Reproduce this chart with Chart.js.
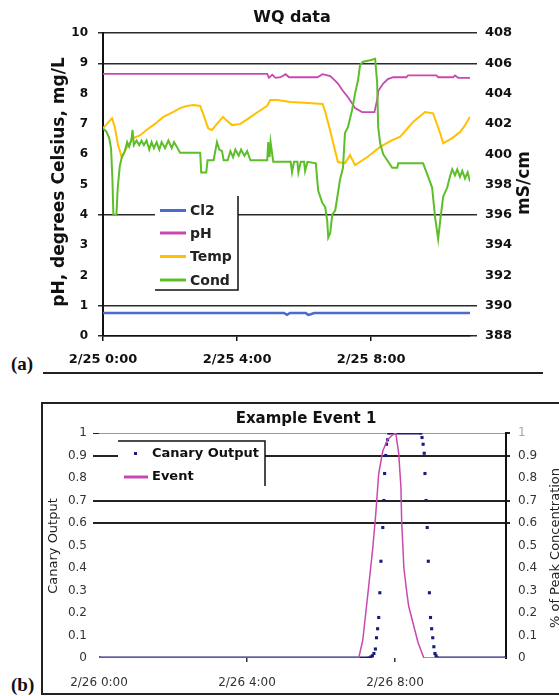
<!DOCTYPE html>
<html>
<head>
<meta charset="utf-8">
<script src="https://cdn.jsdelivr.net/npm/chart.js@4.4.1/dist/chart.umd.min.js"></script>
<style>
  body{margin:0;background:#fff;width:559px;height:696px;position:relative;overflow:hidden}
  canvas{position:absolute;left:0}
  #grafA{top:0}
  #grafB{top:376px}
  .letra{position:absolute;left:11px;font-family:"Liberation Serif",serif;font-weight:bold;font-size:19px;color:#111;line-height:20px}
  #linhaA{position:absolute;left:43px;top:372px;width:500px;height:2px;background:#222}
  #caixaB{position:absolute;left:41px;top:402px;width:540px;height:289px;border:2px solid #222}
</style>
</head>
<body>
<div id="linhaA"></div>
<div id="caixaB"></div>
<span class="letra" style="top:354px">(a)</span>
<span class="letra" style="top:675px">(b)</span>
<canvas id="grafA" width="559" height="376"></canvas>
<canvas id="grafB" width="559" height="320"></canvas>
<script>
// grafico (a) - WQ data, horas desde 2/25 0:00
var horasCl2 = [0, 5.40, 5.49, 5.58, 6.05, 6.12, 6.20, 6.30, 10.95]
var valCl2 = [0.76, 0.76, 0.70, 0.76, 0.76, 0.70, 0.72, 0.76, 0.76]

var horasPh = [0, 4.90, 4.95, 5.05, 5.15, 5.30, 5.45, 5.55, 6.40, 6.55, 6.78, 6.90, 7.01, 7.15, 7.31, 7.45,
  7.52, 7.73, 8.10, 8.18, 8.22, 8.36, 8.50, 8.66, 9.05, 9.10, 9.95, 10.00, 10.45, 10.50, 10.60, 10.95]
var valPh = [8.65, 8.65, 8.52, 8.62, 8.52, 8.54, 8.64, 8.54, 8.54, 8.64, 8.58, 8.45, 8.33, 8.10, 7.88, 7.65,
  7.52, 7.39, 7.39, 7.80, 8.10, 8.33, 8.48, 8.54, 8.54, 8.60, 8.60, 8.54, 8.54, 8.60, 8.52, 8.52]

var horasTemp = [0, 0.12, 0.27, 0.35, 0.45, 0.56, 0.70, 0.90, 1.10, 1.30, 1.55, 1.80, 2.10, 2.30, 2.50, 2.70,
  2.90, 3.00, 3.14, 3.25, 3.40, 3.58, 3.70, 3.85, 4.10, 4.30, 4.48, 4.70, 4.90, 4.99, 5.20, 5.60, 6.00, 6.55,
  6.63, 6.75, 6.87, 7.01, 7.22, 7.37, 7.52, 7.88, 8.27, 8.60, 8.87, 9.25, 9.61, 9.85, 10.06, 10.15, 10.42,
  10.66, 10.80, 10.95]
var valTemp = [6.86, 7.00, 7.19, 6.90, 6.30, 5.90, 6.20, 6.53, 6.62, 6.80, 7.00, 7.23, 7.40, 7.52, 7.59, 7.62,
  7.59, 7.30, 6.85, 6.80, 7.00, 7.23, 7.10, 6.96, 7.00, 7.15, 7.29, 7.45, 7.60, 7.79, 7.79, 7.72, 7.70, 7.66,
  7.40, 6.90, 6.36, 5.74, 5.70, 5.97, 5.64, 5.90, 6.24, 6.45, 6.58, 7.06, 7.39, 7.35, 6.69, 6.36, 6.53,
  6.74, 6.95, 7.24]

var horasCond = [0, 0.10, 0.18, 0.24, 0.28, 0.31, 0.40, 0.44, 0.50, 0.56,
  0.65, 0.72, 0.78, 0.85, 0.88, 0.92, 1.00, 1.08, 1.15, 1.22,
  1.30, 1.38, 1.45, 1.52, 1.60, 1.68, 1.75, 1.85, 1.95, 2.05,
  2.12, 2.20, 2.30, 2.90, 2.93, 3.08, 3.12, 3.30, 3.40, 3.47,
  3.55, 3.60, 3.72, 3.80, 3.88, 3.95, 4.05, 4.12, 4.22, 4.30,
  4.40, 4.90, 4.93, 4.97, 5.00, 5.08, 5.60, 5.64, 5.70, 5.80,
  5.83, 5.90, 6.00, 6.03, 6.10, 6.35, 6.42, 6.54, 6.63, 6.69,
  6.72, 6.78, 6.84, 6.93, 7.07, 7.16, 7.22, 7.31, 7.43, 7.52,
  7.61, 7.67, 7.76, 7.97, 8.12, 8.18, 8.21, 8.27, 8.36, 8.48,
  8.63, 8.78, 8.81, 9.55, 9.67, 9.82, 9.91, 10.00, 10.06, 10.15,
  10.27, 10.36, 10.42, 10.50, 10.57, 10.65, 10.72, 10.80, 10.88, 10.95]
var valCond = [401.7, 401.5, 401.1, 400.4, 398.4, 396.0, 396.0, 397.8, 399.2, 399.8,
  400.2, 400.8, 400.5, 401.0, 401.6, 400.6, 400.9, 400.6, 400.9, 400.6,
  400.9, 400.3, 400.8, 400.4, 400.8, 400.3, 400.8, 400.4, 400.9, 400.4,
  400.8, 400.5, 400.1, 400.1, 398.8, 398.8, 399.6, 399.6, 400.8, 400.3,
  400.2, 399.6, 399.6, 400.2, 399.8, 400.3, 399.9, 400.3, 399.9, 400.2,
  399.6, 399.6, 400.8, 399.8, 400.8, 399.5, 399.5, 398.8, 399.5, 399.5,
  398.8, 399.5, 399.5, 398.9, 399.5, 399.4, 397.6, 396.8, 396.5, 395.6,
  394.5, 394.8, 396.0, 396.3, 398.3, 399.1, 401.4, 401.8, 402.9, 404.0,
  404.9, 405.9, 406.1, 406.2, 406.3, 404.7, 401.8, 400.7, 400.0, 399.6,
  399.1, 399.1, 399.4, 399.4, 398.7, 397.8, 395.8, 394.4, 395.6, 397.2,
  397.8, 398.6, 399.0, 398.6, 399.0, 398.5, 398.9, 398.4, 398.8, 398.2]

var ticksHorasA = [0, 4, 8]
var gradeEsqA = [10, 9, 4, 1, 0]
var gradeDirA = [408, 406, 396, 390, 388]

// grafico (b) - Example Event 1, horas desde 2/26 0:00
var horasCanary = [0, 7.30, 7.35, 7.39, 7.43, 7.47, 7.50, 7.53, 7.56, 7.59,
  7.62, 7.67, 7.70, 7.72, 7.75, 7.77, 7.80, 7.83, 8.70, 8.73,
  8.76, 8.79, 8.81, 8.84, 8.87, 8.90, 8.93, 8.96, 8.99, 9.02,
  9.05, 9.08, 9.11, 9.14, 11]
var valCanary = [0, 0, 0.005, 0.01, 0.02, 0.04, 0.09, 0.13, 0.18, 0.29,
  0.43, 0.58, 0.70, 0.82, 0.90, 0.95, 0.97, 1.0, 1.0, 0.98,
  0.95, 0.91, 0.82, 0.70, 0.58, 0.43, 0.29, 0.18, 0.13, 0.09,
  0.05, 0.02, 0.01, 0, 0]

var horasEvento = [0, 7.02, 7.13, 7.21, 7.29, 7.40, 7.48, 7.56, 7.67, 7.80, 7.92,
  8.02, 8.10, 8.16, 8.18, 8.24, 8.32, 8.37, 8.48, 8.62, 8.78, 11]
var valEvento = [0, 0, 0.08, 0.20, 0.32, 0.49, 0.64, 0.82, 0.92, 0.97, 0.99,
  1.00, 0.91, 0.76, 0.61, 0.40, 0.29, 0.23, 0.16, 0.07, 0, 0]

var ticksHorasB = [0, 4, 8]
var gradeB = [1, 0.9, 0.7, 0.6]

var fonte = '"DejaVu Sans"'
var azulEscuro = '#1c1c78'
var magenta = '#c848b0'

/**
 * @description: junta horas e valores em pontos {x, y}
 */
function pontos(horas, vals){
    return horas.map(function(h, i){ return {x: h, y: vals[i]} })
}

function textoVertical(ctx, txt, x, y, font, cor){
    ctx.save()
    ctx.translate(x, y)
    ctx.rotate(-Math.PI / 2)
    ctx.font = font
    ctx.fillStyle = cor
    ctx.textAlign = 'center'
    ctx.textBaseline = 'middle'
    ctx.fillText(txt, 0, 0)
    ctx.restore()
}

function temValor(lista, v){
    return lista.some(function(g){ return Math.abs(g - v) < 1e-6 })
}

// titulos e legenda do grafico (a)
var decoracaoA = {
    id: 'decoracaoA',
    afterDraw: function(chart){
        var ctx = chart.ctx
        ctx.save()
        ctx.fillStyle = '#111'
        ctx.font = 'bold 16px ' + fonte
        ctx.textAlign = 'center'
        ctx.textBaseline = 'middle'
        ctx.fillText('WQ data', 292, 18)
        textoVertical(ctx, 'pH, degrees Celsius, mg/L', 60, 182, 'bold 17px ' + fonte, '#111')
        textoVertical(ctx, 'mS/cm', 525, 183, 'bold 17px ' + fonte, '#111')

        ctx.fillStyle = '#fff'
        ctx.fillRect(155, 196, 83, 94)
        ctx.strokeStyle = '#111'
        ctx.lineWidth = 1.5
        ctx.beginPath()
        ctx.moveTo(155, 290)
        ctx.lineTo(238, 290)
        ctx.lineTo(238, 196)
        ctx.stroke()

        var ys = [210.5, 233, 256.5, 280]
        ctx.font = 'bold 14px ' + fonte
        ctx.textAlign = 'left'
        chart.data.datasets.forEach(function(ds, i){
            ctx.strokeStyle = ds.borderColor
            ctx.lineWidth = 3
            ctx.beginPath()
            ctx.moveTo(160, ys[i])
            ctx.lineTo(186, ys[i])
            ctx.stroke()
            ctx.fillStyle = '#222'
            ctx.fillText(ds.label, 190, ys[i] + 1)
        })
        ctx.restore()
    }
}

// titulos e legenda do grafico (b)
var decoracaoB = {
    id: 'decoracaoB',
    afterDraw: function(chart){
        var ctx = chart.ctx
        ctx.save()
        ctx.fillStyle = '#111'
        ctx.font = 'bold 15px ' + fonte
        ctx.textAlign = 'center'
        ctx.textBaseline = 'middle'
        ctx.fillText('Example Event 1', 306, 43)
        textoVertical(ctx, 'Canary Output', 54, 170, '13px ' + fonte, '#222')
        textoVertical(ctx, '% of Peak Concentration', 556, 172, '13px ' + fonte, '#222')

        ctx.fillStyle = '#fff'
        ctx.fillRect(118, 65, 147, 45)
        ctx.strokeStyle = '#111'
        ctx.lineWidth = 1.5
        ctx.beginPath()
        ctx.moveTo(118, 65)
        ctx.lineTo(265, 65)
        ctx.lineTo(265, 110)
        ctx.stroke()

        ctx.fillStyle = azulEscuro
        ctx.fillRect(134, 76, 3, 3)
        ctx.strokeStyle = magenta
        ctx.lineWidth = 3
        ctx.beginPath()
        ctx.moveTo(124, 101)
        ctx.lineTo(148, 101)
        ctx.stroke()

        ctx.fillStyle = '#111'
        ctx.font = 'bold 13px ' + fonte
        ctx.textAlign = 'left'
        ctx.fillText('Canary Output', 152, 78)
        ctx.fillText('Event', 152, 101)
        ctx.restore()
    }
}

function gerarGraficoA(){
    new Chart(document.getElementById('grafA'), {
        type: 'line',
        data: {
            datasets: [
                {label: 'Cl2', data: pontos(horasCl2, valCl2), borderColor: '#4a6bd0', borderWidth: 2.5, yAxisID: 'y', order: 3},
                {label: 'pH', data: pontos(horasPh, valPh), borderColor: magenta, borderWidth: 1.8, yAxisID: 'y', order: 2},
                {label: 'Temp', data: pontos(horasTemp, valTemp), borderColor: '#ffc000', borderWidth: 2, yAxisID: 'y', order: 1},
                {label: 'Cond', data: pontos(horasCond, valCond), borderColor: '#5cbf2a', borderWidth: 2, yAxisID: 'y1', order: 0}
            ]
        },
        options: {
            responsive: false,
            animation: false,
            layout: {padding: {top: 33, left: 0, right: 0, bottom: 0}},
            elements: {point: {radius: 0}, line: {tension: 0}},
            plugins: {legend: {display: false}, title: {display: false}, tooltip: {enabled: false}},
            scales: {
                x: {
                    type: 'linear', min: 0, max: 10.95,
                    afterBuildTicks: function(s){ s.ticks = ticksHorasA.map(function(v){ return {value: v} }) },
                    afterFit: function(s){ s.height = 40 },
                    border: {display: true, color: '#111', width: 1.5},
                    grid: {drawOnChartArea: false, tickLength: 5, color: '#111', lineWidth: 1.5},
                    ticks: {
                        padding: 11, color: '#111', maxRotation: 0, autoSkip: false,
                        font: {family: fonte, size: 13, weight: 'bold'},
                        callback: function(v){ return '2/25 ' + v + ':00' }
                    }
                },
                y: {
                    position: 'left', min: 0, max: 10,
                    afterFit: function(s){ s.width = 103 },
                    border: {display: true, color: '#111', width: 2},
                    grid: {
                        tickLength: 5, lineWidth: 1.5,
                        color: function(c){ return temValor(gradeEsqA, c.tick.value) ? '#2a2a2a' : 'transparent' }
                    },
                    ticks: {stepSize: 1, padding: 10, color: '#111', font: {family: fonte, size: 12, weight: 'bold'}}
                },
                y1: {
                    position: 'right', min: 388, max: 408,
                    afterFit: function(s){ s.width = 89 },
                    border: {display: false},
                    grid: {
                        drawOnChartArea: false, tickLength: 7, lineWidth: 1.5,
                        color: function(c){ return temValor(gradeDirA, c.tick.value) ? '#2a2a2a' : 'transparent' }
                    },
                    ticks: {stepSize: 2, padding: 8, color: '#111', font: {family: fonte, size: 13, weight: 'bold'}}
                }
            }
        },
        plugins: [decoracaoA]
    })
}

function gerarGraficoB(){
    new Chart(document.getElementById('grafB'), {
        type: 'line',
        data: {
            datasets: [
                {
                    label: 'Canary Output', data: pontos(horasCanary, valCanary), yAxisID: 'y', order: 1,
                    borderColor: azulEscuro, borderWidth: 3,
                    // amostras densas viram faixa continua nos trechos planos
                    segment: {borderColor: function(c){ return c.p0.parsed.y === c.p1.parsed.y ? azulEscuro : 'transparent' }},
                    pointStyle: 'rect', pointRadius: 2.2, pointBorderWidth: 0, pointBackgroundColor: azulEscuro
                },
                {
                    label: 'Event', data: pontos(horasEvento, valEvento), yAxisID: 'y1', order: 0,
                    borderColor: magenta, borderWidth: 1.5, pointRadius: 0
                }
            ]
        },
        options: {
            responsive: false,
            animation: false,
            layout: {padding: {top: 57, left: 0, right: 0, bottom: 0}},
            elements: {line: {tension: 0}},
            plugins: {legend: {display: false}, title: {display: false}, tooltip: {enabled: false}},
            scales: {
                x: {
                    type: 'linear', min: 0, max: 11,
                    afterBuildTicks: function(s){ s.ticks = ticksHorasB.map(function(v){ return {value: v} }) },
                    afterFit: function(s){ s.height = 38 },
                    border: {display: false},
                    grid: {
                        drawOnChartArea: false, tickLength: 4, lineWidth: 1.5,
                        color: function(c){ return c.tick.value === 0 ? 'transparent' : '#333' }
                    },
                    ticks: {
                        padding: 14, color: '#333', maxRotation: 0, autoSkip: false,
                        font: {family: fonte, size: 12},
                        callback: function(v){ return '2/26 ' + v + ':00' }
                    }
                },
                y: {
                    position: 'left', min: 0, max: 1,
                    afterFit: function(s){ s.width = 99 },
                    border: {display: false},
                    grid: {
                        tickLength: 6,
                        color: function(c){
                            if (Math.abs(c.tick.value - 1) < 1e-6) return '#9a9a9a'
                            return temValor(gradeB, c.tick.value) ? '#222' : 'transparent'
                        },
                        tickColor: function(c){ return temValor(gradeB, c.tick.value) ? '#222' : 'transparent' },
                        lineWidth: function(c){ return Math.abs(c.tick.value - 1) < 1e-6 ? 1 : 2 }
                    },
                    ticks: {
                        stepSize: 0.1, padding: 6, color: '#333', font: {family: fonte, size: 12},
                        callback: function(v){ return String(Math.round(v * 10) / 10) }
                    }
                },
                y1: {
                    position: 'right', min: 0, max: 1,
                    afterFit: function(s){ s.width = 53 },
                    border: {display: true, color: '#111', width: 2},
                    grid: {
                        drawOnChartArea: false, tickLength: 4, lineWidth: 2,
                        color: function(c){ return temValor(gradeB, c.tick.value) ? '#222' : 'transparent' }
                    },
                    ticks: {
                        stepSize: 0.1, padding: 8, font: {family: fonte, size: 12},
                        color: function(c){ return Math.abs(c.tick.value - 1) < 1e-6 ? '#aaa' : '#333' },
                        callback: function(v){ return String(Math.round(v * 10) / 10) }
                    }
                }
            }
        },
        plugins: [decoracaoB]
    })
}

try{
    gerarGraficoA()
    gerarGraficoB()
}catch(e){}
</script>
</body>
</html>
